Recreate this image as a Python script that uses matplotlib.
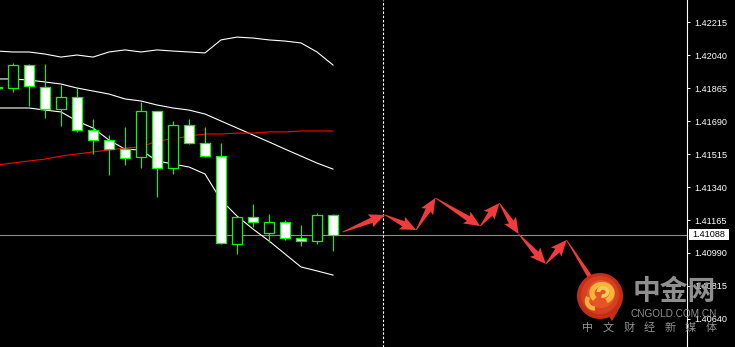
import numpy as np
import matplotlib.pyplot as plt
from matplotlib.patches import Polygon, Circle, Arc, Rectangle
from matplotlib.transforms import IdentityTransform

# bar index (bar 1 is the first full candle on the left)
bars = list(range(0, 22))
opens = [1.41865, 1.41865, 1.41987, 1.41870, 1.41754, 1.41817, 1.41642, 1.41589,
         1.41541, 1.41499, 1.41743, 1.41441, 1.41669, 1.41573, 1.41504, 1.41038,
         1.41181, 1.41096, 1.41154, 1.41070, 1.41054, 1.41192]
highs = [1.41875, 1.41998, 1.41992, 1.41992, 1.41881, 1.41865, 1.41701, 1.41616,
         1.41658, 1.41791, 1.41743, 1.41690, 1.41701, 1.41658, 1.41573, 1.41181,
         1.41250, 1.41197, 1.41165, 1.41138, 1.41202, 1.41197]
lows = [1.41860, 1.41844, 1.41770, 1.41706, 1.41663, 1.41632, 1.41515, 1.41404,
        1.41457, 1.41441, 1.41287, 1.41409, 1.41568, 1.41499, 1.41038, 1.40985,
        1.41128, 1.41048, 1.41059, 1.41027, 1.41038, 1.41001]
closes = [1.41870, 1.41987, 1.41876, 1.41754, 1.41817, 1.41642, 1.41589, 1.41541,
          1.41494, 1.41743, 1.41441, 1.41669, 1.41573, 1.41504, 1.41043, 1.41181,
          1.41154, 1.41154, 1.41070, 1.41054, 1.41192, 1.41088]

# bollinger bands + moving average
bb_upper = [1.42061, 1.42056, 1.42056, 1.42045, 1.42029, 1.42040, 1.42029, 1.42056,
            1.42067, 1.42056, 1.42067, 1.42061, 1.42056, 1.42051, 1.42120, 1.42135,
            1.42130, 1.42120, 1.42114, 1.42104, 1.42056, 1.41987]
bb_mid = [1.41913, 1.41913, 1.41907, 1.41897, 1.41886, 1.41865, 1.41849, 1.41833,
          1.41807, 1.41796, 1.41775, 1.41759, 1.41748, 1.41727, 1.41690, 1.41653,
          1.41616, 1.41579, 1.41541, 1.41504, 1.41467, 1.41435]
bb_lower = [1.41759, 1.41759, 1.41759, 1.41748, 1.41738, 1.41690, 1.41653, 1.41589,
            1.41541, 1.41536, 1.41478, 1.41462, 1.41446, 1.41409, 1.41271, 1.41186,
            1.41117, 1.41054, 1.40985, 1.40916, 1.40895, 1.40873]
ma_red = [1.41457, 1.41467, 1.41478, 1.41488, 1.41504, 1.41515, 1.41526, 1.41536,
          1.41547, 1.41552, 1.41584, 1.41595, 1.41610, 1.41621, 1.41621, 1.41626,
          1.41626, 1.41632, 1.41632, 1.41637, 1.41637, 1.41637]

# forecast arrow path
arrow_t = [21.6, 24.25, 26.2, 27.4, 30.2, 31.4, 32.6, 34.3, 35.6, 37.9]
arrow_p = [1.41101, 1.41192, 1.41112, 1.41282, 1.41133, 1.41255, 1.41091,
           1.40932, 1.41059, 1.40751]

current_price = 1.41088
now_bar = 24.1
yticks = [1.42215, 1.42040, 1.41865, 1.41690, 1.41515, 1.41340, 1.41165,
          1.40990, 1.40815, 1.40640]

W, H = 735, 347
fig = plt.figure(figsize=(W / 100, H / 100), dpi=100, facecolor='black')
ax = fig.add_axes([0, 0, 687 / W, 1])
ax.set_facecolor('black')
ax.set_xlim(0.1875, 43.125)
ax.set_ylim(1.404915, 1.423317)

for s in ['left', 'top', 'bottom']:
    ax.spines[s].set_visible(False)
ax.spines['right'].set_color('white')
ax.spines['right'].set_linewidth(0.8)
ax.set_xticks([])
ax.yaxis.tick_right()
ax.set_yticks(yticks)
ax.set_yticklabels(['%.5f' % v for v in yticks], family='Liberation Sans', fontsize=6.6)
ax.tick_params(axis='y', colors='white', length=2.5, width=0.7, pad=3)

# current price + now line
ax.axhline(current_price, color='#8c8c8c', lw=0.8, zorder=1)
ax.axvline(now_bar, color='white', lw=0.8, ls=(0, (2.2, 1.6)), zorder=1)

# indicators
ax.plot(bars, bb_upper, color='white', lw=0.8, zorder=2)
ax.plot(bars, bb_mid, color='white', lw=0.8, zorder=2)
ax.plot(bars, bb_lower, color='white', lw=0.8, zorder=2)
ax.plot(bars, ma_red, color='red', lw=0.8, zorder=2)

# candles
for t, o, h, l, c in zip(bars, opens, highs, lows, closes):
    ax.vlines(t, l, h, color='#00ff00', lw=0.8, zorder=3)
    fc = 'white' if c < o else 'black'
    ax.bar(t, max(abs(c - o), 0.00002), bottom=min(o, c), width=0.6,
           facecolor=fc, edgecolor='#00ff00', linewidth=0.9, zorder=4)


def arrow_poly(p0, p1, head_len=14, head_w=7, shaft_w=2.8, tail_w=0.4):
    d = p1 - p0
    u = d / np.hypot(*d)
    n = np.array([-u[1], u[0]])
    base = p1 - u * head_len
    wing = base - u * 2
    return [p0 + n * tail_w, base + n * shaft_w, wing + n * head_w, p1,
            wing - n * head_w, base - n * shaft_w, p0 - n * tail_w]


pts = ax.transData.transform(np.column_stack([arrow_t, arrow_p]))
for i in range(len(pts) - 1):
    ax.add_patch(Polygon(arrow_poly(pts[i], pts[i + 1]), closed=True,
                         facecolor='#f23c3c', edgecolor='none',
                         transform=IdentityTransform(), zorder=5, clip_on=False))

# overlay in pixel coords (from top-left) for price box and watermark
ov = fig.add_axes([0, 0, 1, 1])
ov.set_xlim(0, W)
ov.set_ylim(H, 0)
ov.axis('off')
ov.patch.set_alpha(0)

ypix = H - ax.transData.transform((0, current_price))[1]
ov.add_patch(Rectangle((689, ypix - 5.5), 40, 11, facecolor='white', edgecolor='none'))
ov.text(709, ypix, '%.5f' % current_price, ha='center', va='center', color='black',
        family='Liberation Sans', fontsize=6.6)

# watermark logo
cx, cy = 600, 296
ov.add_patch(Polygon([(606, 312), (618, 311), (612, 321)], closed=True,
                     facecolor='#c8301a', edgecolor='none', zorder=6))
ov.add_patch(Circle((cx, cy), 23, facecolor='#c42e18', edgecolor='none', zorder=6))
ov.add_patch(Circle((cx, cy - 1), 19, facecolor='#d83f1f', edgecolor='none', zorder=6))
ov.add_patch(Circle((cx + 1, cy - 2), 14, facecolor='#e55428', edgecolor='none', zorder=6))
ov.add_patch(Arc((cx + 2, cy - 3), 20, 17, theta1=140, theta2=420, color='#f6b43a', lw=3.8, zorder=7))
ov.add_patch(Arc((cx + 3, cy - 4), 9, 8, theta1=180, theta2=470, color='#f9cc55', lw=2.6, zorder=7))
ov.add_patch(Arc((cx - 5, cy + 5), 16, 15, theta1=90, theta2=210, color='#f6b43a', lw=3.2, zorder=7))

ov.text(674, 292, '中金网', ha='center', va='center', color='#a0a0a0', alpha=0.9,
        family=['Noto Sans CJK SC', 'DejaVu Sans'], fontsize=20, fontweight='bold', zorder=6)
ov.text(674, 314, 'CNGOLD.COM.CN', ha='center', va='center', color='#a0a0a0', alpha=0.9,
        family='Liberation Sans', fontsize=7.2, zorder=6)
for i, ch in enumerate('中文财经新媒体'):
    ov.text(588 + i * 20.5, 328, ch, ha='center', va='center', color='#a0a0a0', alpha=0.9,
            family=['Noto Sans CJK SC', 'DejaVu Sans'], fontsize=8, zorder=6)

fig.savefig('out.png', dpi=100, facecolor='black')
